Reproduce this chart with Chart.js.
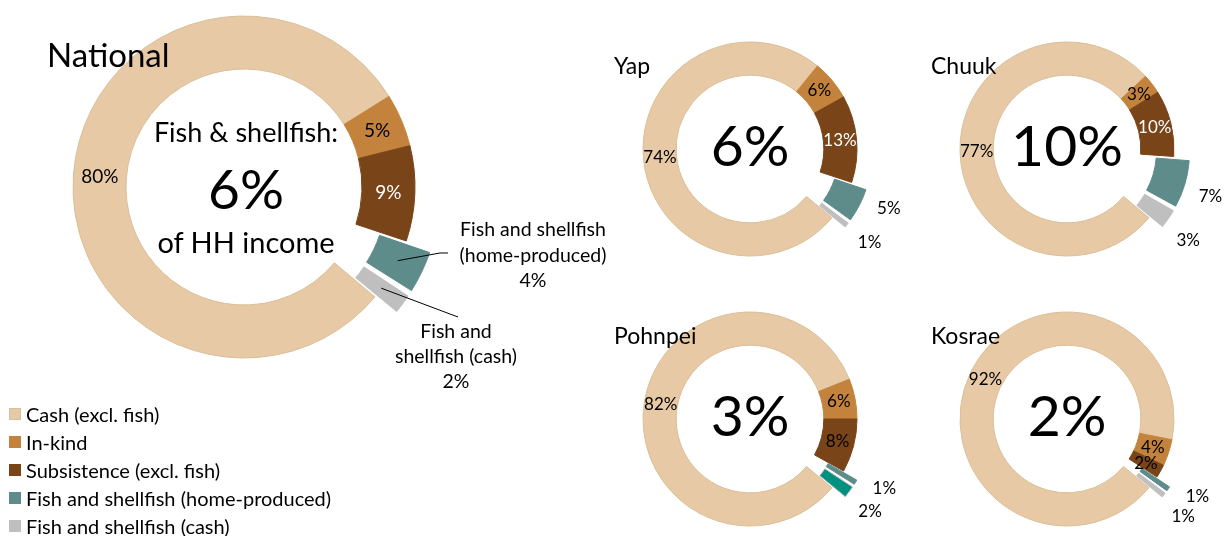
<!DOCTYPE html>
<html>
<head>
<meta charset="utf-8">
<script src="https://cdn.jsdelivr.net/npm/chart.js@4"></script>
<style>
  html, body { margin:0; padding:0; background:#fff; }
  body { width:1224px; height:536px; position:relative; overflow:hidden; font-family:Lato, "Open Sans", sans-serif; color:#000; }
  canvas { position:absolute; }
  .t { position:absolute; line-height:1; white-space:nowrap; z-index:5; }
  .c { transform:translateX(-50%); text-align:center; }
  #legend { position:absolute; left:9px; top:400px; z-index:5; }
  .li { height:28px; line-height:28px; font-size:20px; position:relative; padding-left:17px; white-space:nowrap; }
  .sw { position:absolute; left:0; top:8px; width:12px; height:12px; box-sizing:border-box; }
</style>
</head>
<body>
<script>
// ---------- data ----------
const categories = ['Cash (excl. fish)', 'In-kind', 'Subsistence (excl. fish)', 'Fish and shellfish (home-produced)', 'Fish and shellfish (cash)'];
const regions = ['National', 'Yap', 'Chuuk', 'Pohnpei', 'Kosrae'];
const nationalValues = [80, 5, 9, 4, 2];
const yapValues      = [74, 6, 13, 5, 1];
const chuukValues    = [77, 3, 10, 7, 3];
const pohnpeiValues  = [82, 6, 8, 1, 2];
const kosraeValues   = [92, 4, 2, 1, 1];
const fishShare      = [6, 6, 10, 3, 2];   // fish & shellfish share of HH income (%)

// ---------- style ----------
const colors  = ['#E8C9A6', '#C4833C', '#7A4419', '#5E8C8B', '#BFBFBF'];
const borders = ['#D8BF98', '#C4833C', '#7A4419', '#5E8C8B', '#BFBFBF'];

function pt(cx, cy, r, deg) {           // deg measured clockwise from top
  const a = (deg - 90) * Math.PI / 180;
  return [cx + Math.cos(a) * r, cy + Math.sin(a) * r];
}

// Chart.js v4 moves an arc by offset/4 and grows its radii by offset/4*(1-sin(circ));
// pick the option so the slice is pulled out by `d` pixels in total.
function explodeOffsets(values, d) {
  const total = values.reduce((a, b) => a + b, 0);
  return values.map((v, i) => {
    if (i < 3) return 0;
    const circ = v / total * 2 * Math.PI;
    const fix = 1 - Math.sin(Math.min(Math.PI, circ));
    return 4 * d / (1 + fix);
  });
}

const labelPlugin = {
  id: 'pctLabels',
  afterDatasetsDraw(chart, args, opts) {
    const ctx = chart.ctx;
    const meta = chart.getDatasetMeta(0);
    const vals = chart.data.datasets[0].data;
    ctx.save();
    ctx.textAlign = 'center';
    ctx.textBaseline = 'middle';
    meta.data.forEach((arc, i) => {
      const p = arc.getProps(['x', 'y', 'startAngle', 'endAngle', 'innerRadius', 'outerRadius']);
      const off = i < 3 ? 0 : opts.explode;
      const midRad = (p.startAngle + p.endAngle) / 2;
      const midDeg = midRad * 180 / Math.PI + 90;
      const text = vals[i] + '%';
      if (i < 3) {
        const [x, y] = pt(p.x, p.y, (p.innerRadius + p.outerRadius) / 2, midDeg);
        ctx.font = opts.font;
        ctx.fillStyle = opts.inColors[i];
        ctx.fillText(text, x, y);
      } else if (opts.callouts) {
        const c = opts.callouts[i - 3];
        const [sx, sy] = pt(p.x, p.y, (p.innerRadius + p.outerRadius) / 2 + off, midDeg);
        ctx.strokeStyle = '#000';
        ctx.lineWidth = 1;
        ctx.beginPath();
        ctx.moveTo(sx, sy);
        c.path.forEach(q => ctx.lineTo(p.x + q[0], p.y + q[1]));
        ctx.stroke();
        ctx.font = opts.calloutFont;
        ctx.fillStyle = '#000';
        const lines = c.lines.concat([text]);
        lines.forEach((ln, k) => ctx.fillText(ln, p.x + c.tx, p.y + c.ty + k * c.lh));
      } else {
        const shift = opts.outShift[i - 3];
        const [x, y] = pt(p.x, p.y, p.outerRadius + opts.outR, midDeg + shift);
        ctx.font = opts.font;
        ctx.fillStyle = '#000';
        ctx.fillText(text, x, y + 3);
      }
    });
    ctx.restore();
  }
};

function addCanvas(cx, cy, w, h) {
  const cv = document.createElement('canvas');
  cv.width = w; cv.height = h;
  cv.style.left = (cx - w / 2) + 'px';
  cv.style.top = (cy - h / 2) + 'px';
  cv.style.width = w + 'px'; cv.style.height = h + 'px';
  document.body.appendChild(cv);
  return cv;
}

function makeDonut(cv, values, R, d, bg, labelOpts) {
  labelOpts.explode = d;
  return new Chart(cv, {
    type: 'doughnut',
    data: {
      labels: categories,
      datasets: [{
        data: values,
        backgroundColor: bg,
        borderColor: borders,
        borderWidth: 1,
        offset: explodeOffsets(values, d),
        hoverOffset: 0
      }]
    },
    options: {
      responsive: false,
      animation: false,
      devicePixelRatio: 1,
      events: [],
      rotation: 130,
      radius: R,
      cutout: '69%',
      layout: { padding: 0 },
      plugins: { legend: { display: false }, tooltip: { enabled: false }, pctLabels: labelOpts }
    },
    plugins: [labelPlugin]
  });
}

function addText(txt, x, y, size, center) {
  const d = document.createElement('div');
  d.className = 't' + (center ? ' c' : '');
  d.textContent = txt;
  d.style.left = x + 'px';
  d.style.top = y + 'px';
  d.style.fontSize = size + 'px';
  document.body.appendChild(d);
}

// ---------- National ----------
const natC = [244, 187];
makeDonut(addCanvas(natC[0], natC[1], 760, 440), nationalValues, 171, 26, colors, {
  font: '19px Lato',
  inColors: ['#000', '#000', '#fff'],
  calloutFont: '19.5px Lato',
  callouts: [
    { path: [[196, 66], [204, 66]], lines: ['Fish and shellfish', '(home-produced)'], tx: 289, ty: 43, lh: 25.5 },
    { path: [[214, 130]], lines: ['Fish and', 'shellfish (cash)'], tx: 212, ty: 145, lh: 25 }
  ]
});

// ---------- states ----------
const small = [
  { name: regions[1], values: yapValues,     c: [750, 149],  share: fishShare[1], inColors: ['#000', '#000', '#fff'], outShift: [-5, -1] },
  { name: regions[2], values: chuukValues,   c: [1067, 149], share: fishShare[2], inColors: ['#000', '#000', '#fff'], outShift: [0.5, 1.5] },
  { name: regions[3], values: pohnpeiValues, c: [750, 419],  share: fishShare[3], inColors: ['#000', '#000', '#000'], outShift: [-4.5, 0.5] },
  { name: regions[4], values: kosraeValues,  c: [1067, 419], share: fishShare[4], inColors: ['#000', '#000', '#000'], outShift: [-5, 1] }
];
small.forEach((s, idx) => {
  const bg = colors.slice();
  if (s.name === 'Pohnpei') bg[4] = '#00917F';
  makeDonut(addCanvas(s.c[0], s.c[1], 330, 330), s.values, 107, 16, bg, {
    font: '17px Lato',
    inColors: s.inColors,
    outShift: s.outShift,
    outR: 43
  });
  addText(s.name, s.c[0] - 136, s.c[1] - 95, 23, false);
  addText(s.share + '%', s.c[0], s.c[1] - 33.5, 57, true);
});

// ---------- National texts ----------
addText(regions[0], 47, 38, 33, false);
addText('Fish & shellfish:', 246, 118, 27, true);
addText(fishShare[0] + '%', 246, 161, 55, true);
addText('of HH income', 246, 227, 29, true);

// ---------- legend ----------
const lg = document.createElement('div');
lg.id = 'legend';
categories.forEach((cat, i) => {
  const row = document.createElement('div');
  row.className = 'li';
  const sw = document.createElement('span');
  sw.className = 'sw';
  sw.style.background = colors[i];
  if (i === 0) sw.style.border = '1px solid #CFC3A0';
  row.appendChild(sw);
  row.appendChild(document.createTextNode(cat));
  lg.appendChild(row);
});
document.body.appendChild(lg);
</script>
</body>
</html>
